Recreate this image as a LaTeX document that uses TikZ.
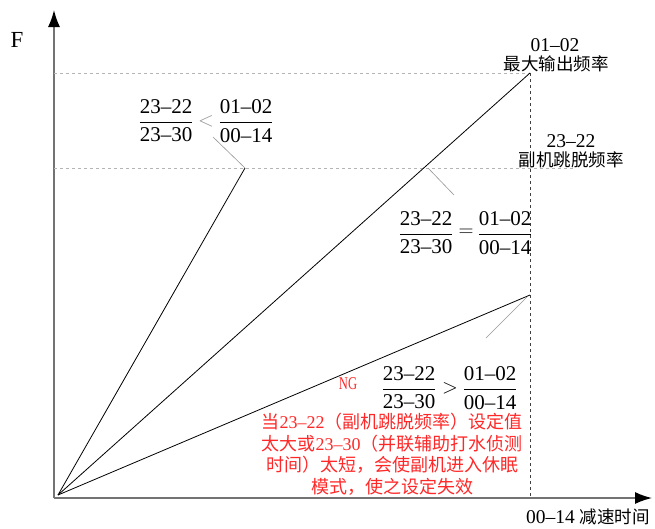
\documentclass[tikz,border=0pt]{standalone}
\usepackage{fontspec}
\setmainfont{Liberation Serif}
\newfontfamily\cjk{Noto Sans CJK SC}
\usetikzlibrary{arrows.meta}
\definecolor{axisGray}{RGB}{115,115,115}
\definecolor{gridGray}{RGB}{180,180,180}
\definecolor{leadGray}{RGB}{150,150,150}
\definecolor{noteRed}{RGB}{255,40,40}
\newcommand{\zh}[1]{{\cjk\fontsize{17.5}{19}\selectfont #1}}
\newcommand{\ratio}[2]{$\displaystyle\frac{\mbox{#1}}{\mbox{#2}}$}

\begin{document}
\begin{tikzpicture}[x=1pt,y=-1pt,
    num/.style={font=\fontsize{21}{23}\selectfont, inner sep=0pt},
    lbl/.style={font=\fontsize{19.5}{21}\selectfont, inner sep=0pt},
    axis/.style={axisGray, line width=1.5pt, -{Latex[length=17pt,width=12pt,color=black]}},
    guide/.style={gridGray, dashed, line width=0.6pt},
    lead/.style={leadGray, line width=0.6pt}]
        \useasboundingbox (0,0) rectangle (655,528);

        % Axes
        \coordinate (O) at (54,498);
        \coordinate (ytip) at (54,10);
        \coordinate (xtip) at (652,498);
        \draw[axis] (O) -- (ytip);
        \draw[axis] (O) -- (xtip);
        \node[lbl, font=\fontsize{23}{25}\selectfont] (F) at (17,40) {F};

        % Key points
        \coordinate (start) at (58,495);
        \coordinate (fmax) at (530,73);
        \coordinate (fsub) at (245,168);
        \coordinate (flow) at (530,295);
        \coordinate (tdec) at (530,498);

        % Dashed guides
        \draw[guide] (54,73) -- (fmax);
        \draw[guide] (54,168) -- (573,168);
        \draw[black!75, dashed, line width=0.6pt] (fmax) -- (tdec);

        % Ramps
        \draw[line width=0.8pt] (start) -- (fsub);
        \draw[line width=0.8pt] (start) -- (fmax);
        \draw[line width=0.8pt] (start) -- (flow);

        % Axis labels
        \node[lbl] (maxnum) at (555,45) {01–02};
        \node[lbl] (maxtxt) at (556,64) {\zh{最大输出频率}};
        \node[lbl] (subnum) at (571,141) {23–22};
        \node[lbl] (subtxt) at (571,160) {\zh{副机跳脱频率}};
        \node[lbl] (tlbl) at (588,517) {00–14 \zh{减速时间}};

        % Case 1: ratio less than
        \node[num] (lhsA) at (166,121) {\ratio{23–22}{23–30}};
        \node[num, leadGray] (ltA) at (206,121) {$<$};
        \node[num] (rhsA) at (246,121) {\ratio{01–02}{00–14}};
        \draw[lead] (fsub) -- (213,137);

        % Case 2: ratio equal
        \node[num] (lhsB) at (426,233) {\ratio{23–22}{23–30}};
        \node[num] (eqB) at (466,233) {$=$};
        \node[num] (rhsB) at (505,233) {\ratio{01–02}{00–14}};
        \draw[lead] (428,168) -- (454,195);

        % Case 3: ratio greater than
        \node[num] (lhsC) at (409,388) {\ratio{23–22}{23–30}};
        \node[num] (gtC) at (450,388) {$>$};
        \node[num] (rhsC) at (490,388) {\ratio{01–02}{00–14}};
        \draw[lead] (527,297) -- (486,338);

        % NG note
        \node[noteRed, font=\fontsize{18}{20}\selectfont, inner sep=0pt, xscale=0.7, transform shape] (ng) at (348,384) {NG};
        \node[noteRed, font=\fontsize{18}{21.5}\selectfont, align=center, inner sep=0pt] (note) at (392,454)
            {{\cjk 当}23–22{\cjk （副机跳脱频率）设定值}\\
             {\cjk 太大或}23–30{\cjk （并联辅助打水侦测}\\
             {\cjk 时间）太短，会使副机进入休眠}\\
             {\cjk 模式，使之设定失效}};
      \end{tikzpicture}
\end{document}
